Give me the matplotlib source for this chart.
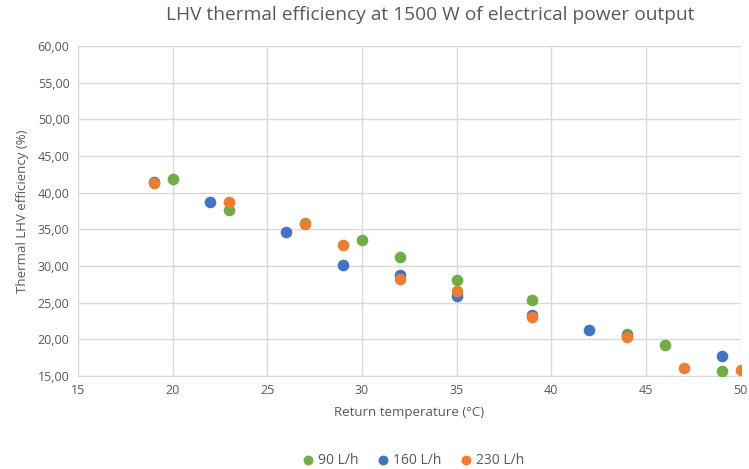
import matplotlib
matplotlib.use("Agg")
import matplotlib.pyplot as plt
from matplotlib.ticker import FuncFormatter

# Return temperature (°C) and thermal LHV efficiency (%) per flow rate
temp_90 = [20, 23, 27, 30, 32, 35, 39, 44, 46, 49]
eff_90 = [41.9, 37.7, 35.9, 33.5, 31.2, 28.1, 25.4, 20.7, 19.2, 15.7]

temp_160 = [19, 22, 26, 29, 32, 35, 39, 42, 44, 49]
eff_160 = [41.5, 38.7, 34.6, 30.1, 28.8, 25.9, 23.3, 21.3, 20.5, 17.7]

temp_230 = [19, 23, 27, 29, 32, 35, 39, 44, 47, 50]
eff_230 = [41.3, 38.7, 35.8, 32.9, 28.3, 26.6, 23.0, 20.3, 16.1, 15.8]

series = [
    ("90 L/h", temp_90, eff_90, "#70AD47"),
    ("160 L/h", temp_160, eff_160, "#4472C4"),
    ("230 L/h", temp_230, eff_230, "#ED7D31"),
]

plt.rcParams["font.family"] = ["Open Sans", "DejaVu Sans"]
text_col = "#595959"
grid_col = "#D9D9D9"

fig = plt.figure(figsize=(7.49, 4.69), dpi=100)
ax = fig.add_axes([0.104, 0.198, 0.885, 0.704])

for label, x, y, color in series:
    ax.scatter(x, y, s=70, color=color, label=label, zorder=3, linewidths=0)

ax.set_xlim(15, 50)
ax.set_ylim(15, 60)
ax.set_xticks(range(15, 51, 5))
ax.set_yticks(range(15, 61, 5))
ax.yaxis.set_major_formatter(FuncFormatter(lambda v, p: f"{v:.2f}".replace(".", ",")))
ax.grid(True, color=grid_col, linewidth=1)
ax.set_axisbelow(True)
for side in ["top", "right", "left"]:
    ax.spines[side].set_visible(False)
ax.spines["bottom"].set_color(grid_col)
ax.tick_params(length=0, colors=text_col, labelsize=9, pad=6)

ax.set_xlabel("Return temperature (°C)", color=text_col, fontsize=9.5, labelpad=6)
ax.set_ylabel("Thermal LHV efficiency (%)", color=text_col, fontsize=9.5, labelpad=6)
fig.text(0.575, 0.968, "LHV thermal efficiency at 1500 W of electrical power output",
         color=text_col, fontsize=13.8, ha="center", va="center")

ax.legend(loc="lower center", bbox_to_anchor=(0.5, -0.315), ncol=3, frameon=False,
          fontsize=10, labelcolor=text_col, handletextpad=-0.3, columnspacing=0.8,
          markerscale=0.85)

fig.savefig("out.png", dpi=100)
